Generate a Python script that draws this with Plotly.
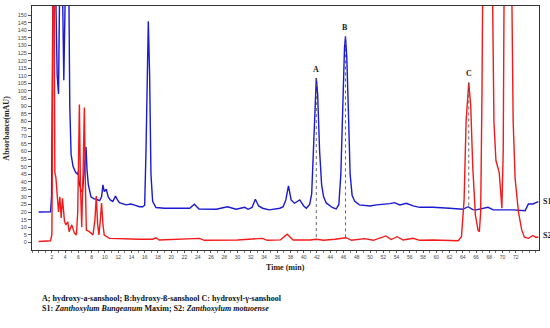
import plotly.graph_objects as go

# S1 (blue) chromatogram: time (min), absorbance (mAU)
s1_time = [0, 1.8, 1.95, 2.1, 2.3, 2.6, 2.8, 3.0, 3.1, 3.3, 3.5, 3.8, 4.0, 4.3, 4.5, 4.7,
           4.9, 5.2, 5.6, 5.9, 6.0, 6.1, 6.4, 6.6, 6.85, 7.0, 7.15, 7.3, 7.5, 7.9, 8.3, 8.7,
           9.2, 9.5, 9.7, 9.9, 10.2, 10.5, 10.8, 11.2, 11.6, 11.9, 12.2, 13.2, 13.9, 14.5,
           15.2, 15.7, 16.0, 16.2, 16.4, 16.55, 16.75, 16.95, 17.2, 17.7, 19.0, 21.3, 22.8,
           23.5, 24.2, 26.8, 28.5, 29.8, 31.1, 31.6, 32.2, 32.7, 33.2, 33.8, 34.8, 36.4,
           36.9, 37.3, 37.7, 38.1, 38.6, 39.4, 40.0, 40.4, 40.9, 41.2, 41.5, 41.75, 41.9,
           42.1, 42.4, 42.7, 43.0, 43.4, 44.3, 44.9, 45.3, 45.6, 45.9, 46.15, 46.3, 46.5,
           46.75, 47.0, 47.3, 47.7, 48.4, 50.0, 51.0, 52.2, 53.0, 53.7, 54.5, 55.5, 56.5,
           57.5, 59.5, 62.0, 64.0, 64.8, 65.5, 66.0, 67.8, 68.6, 71.6, 73.4, 73.9, 74.6, 75.4]
s1_abs = [20, 20.2, 30, 120, 260, 160, 110, 98, 120, 220, 200, 107, 130, 240, 200, 90,
          58, 50, 46, 45, 47, 40, 34, 33.5, 45, 58, 63, 48, 38, 30, 28.8, 28.4,
          27.5, 30, 37.9, 33.5, 35, 30, 28, 27, 30.6, 28, 26.2, 24.7, 25.3, 24.5,
          23.5, 23.5, 24.5, 60, 130, 146, 110, 45, 27, 23, 22.5, 22.5, 22.5,
          25.1, 22, 21.8, 23.5, 21.8, 23.1, 21.8, 23, 28.4, 24, 22.5, 21.4, 22.5,
          23.5, 28, 37.2, 28, 25.8, 28, 24, 22.5, 25, 32, 65, 100, 108.5,
          98, 60, 38, 30, 26, 23, 22, 25, 45, 95, 128, 136, 122,
          85, 45, 31, 27, 24.7, 24, 24.7, 25.1, 25.5, 26.2, 24.7, 25.8, 24,
          23.1, 23.1, 22.5, 21.8, 23.5, 21.6, 21.4, 23.1, 21.4, 21.4, 20.9, 25.3, 25.3, 26.8]

# S2 (red) chromatogram
s2_time = [0, 1.8, 2.0, 2.1, 2.2, 2.3, 2.4, 2.45, 2.6, 2.9, 3.0, 3.2, 3.4, 3.6, 3.9, 4.1,
           4.4, 4.6, 5.0, 5.4, 5.7, 5.9, 6.0, 6.15, 6.3, 6.5, 6.7, 6.9, 7.05, 7.2, 7.65,
           8.2, 8.5, 8.7, 8.9, 9.1, 9.3, 9.5, 9.7, 9.9, 10.7, 13.7, 15.2, 17.2, 17.7, 18.2,
           21.0, 24.3, 25.0, 30.0, 33.8, 34.5, 36.5, 37.5, 38.4, 41.0, 41.9, 43.0, 44.7,
           46.4, 47.2, 49.2, 50.5, 52.4, 53.2, 54.1, 55.0, 56.5, 57.5, 59.5, 63.3, 63.8,
           64.2, 64.5, 64.9, 65.2, 65.5, 65.9, 66.3, 66.5, 66.7, 66.9, 67.2, 68.0, 68.4,
           68.7, 69.0, 69.5, 69.9, 70.1, 70.4, 70.8, 71.2, 71.6, 71.9, 72.4, 72.9, 73.3,
           73.9, 74.6, 75.0, 75.4]
s2_abs = [0.5, 1, 5, 80, 250, 260, 95, 46, 43, 26, 20, 30, 16, 29, 14, 11.5,
          13.5, 7, 11.5, 6, 4.8, 20, 60, 91, 40, 10, 45, 89, 40, 8, 7,
          4.8, 15, 30.5, 12, 4.8, 14, 26, 12, 4.8, 2.6, 2, 2, 2, 3, 1.5,
          1.8, 2.6, 1.3, 1.5, 2.6, 1.3, 1.6, 5.3, 1.5, 1.5, 2, 1.3, 2,
          3, 1.3, 2.4, 1.3, 4.2, 1.8, 3.7, 1.5, 2.6, 1.3, 1.5, 1, 3.7,
          28, 80, 105.6, 90, 50, 18, 8, 7, 20, 100, 300, 400, 200,
          80, 54, 46, 22.5, 60, 300, 400, 250, 80, 42, 20, 8, 3.3,
          2.6, 4.5, 3.3, 3.3]

# Marked peaks
peak_labels = ["A", "B", "C"]
peak_times = [41.9, 46.3, 64.9]
peak_tops = [108.5, 136.0, 105.6]
peak_feet = [1.5, 2.5, 23.5]

# Axis ticks
x_ticks = list(range(2, 73, 2))
y_ticks = list(range(0, 151, 5))

series_names = ["S1", "S2"]
series_label_y = [26.7, 4.2]

footnote_1 = "A; hydroxy-a-sanshool; B:hydroxy-ß-sanshool C: hydroxyl-γ-sanshool"
footnote_2 = ("S1: <i>Zanthoxylum Bungeanum</i> Maxim; S2: <i>Zanthoxylum motuoense</i>")

BLUE = "#1a1ad0"
RED = "#f21a1a"
SERIF = "Liberation Serif, Times New Roman, serif"

fig = go.Figure()
fig.add_trace(go.Scatter(x=s1_time, y=s1_abs, mode="lines", name="S1",
                         line=dict(color=BLUE, width=1.4), showlegend=False))
fig.add_trace(go.Scatter(x=s2_time, y=s2_abs, mode="lines", name="S2",
                         line=dict(color=RED, width=1.4), showlegend=False))

for lab, t, top, foot in zip(peak_labels, peak_times, peak_tops, peak_feet):
    fig.add_trace(go.Scatter(x=[t, t], y=[top, foot], mode="lines", showlegend=False,
                             line=dict(color="#555555", width=0.9, dash="dot")))
    fig.add_annotation(x=t, y=top, text="<b>" + lab + "</b>", showarrow=False,
                       yanchor="bottom", yshift=2,
                       font=dict(family=SERIF, size=8, color="#222222"))

for name, yv in zip(series_names, series_label_y):
    fig.add_annotation(x=1.004, xref="paper", y=yv, yref="y", text="<b>" + name + "</b>",
                       showarrow=False, xanchor="left",
                       font=dict(family=SERIF, size=8, color="#222222"))

fig.add_annotation(x=-0.052, xref="paper", y=0.5, yref="paper", text="<b>Absorbance(mAU)</b>",
                   textangle=-90, showarrow=False, xanchor="center", yanchor="middle",
                   font=dict(family=SERIF, size=8, color="#222222"))
fig.add_annotation(x=0.5, xref="paper", y=-0.072, yref="paper", text="<b>Time (min)</b>",
                   showarrow=False, xanchor="center", yanchor="middle",
                   font=dict(family=SERIF, size=8, color="#222222"))
fig.add_annotation(x=0.0158, xref="paper", y=-0.199, yref="paper", text="<b>" + footnote_1 + "</b>",
                   showarrow=False, xanchor="left", yanchor="middle",
                   font=dict(family=SERIF, size=8, color="#111111"))
fig.add_annotation(x=0.0158, xref="paper", y=-0.24, yref="paper", text="<b>" + footnote_2 + "</b>",
                   showarrow=False, xanchor="left", yanchor="middle",
                   font=dict(family=SERIF, size=8, color="#111111"))

fig.update_layout(
    width=550, height=328,
    margin=dict(l=32, r=11, t=6, b=78),
    paper_bgcolor="white", plot_bgcolor="white",
)
fig.update_xaxes(range=[-1.0, 75.5], tickvals=x_ticks, ticktext=[str(v) for v in x_ticks],
                 ticks="outside", ticklen=2, tickwidth=1, tickcolor="#555555",
                 minor=dict(dtick=1, tick0=0, ticks="outside", ticklen=2, tickcolor="#777777"),
                 showline=True, linecolor="#333333", linewidth=1, mirror=True,
                 showgrid=False, zeroline=False,
                 tickfont=dict(family="Liberation Sans, Arial, sans-serif", size=5, color="#444444"))
fig.update_yaxes(range=[-5.1, 156.1], tickvals=y_ticks, ticktext=[str(v) for v in y_ticks],
                 ticks="outside", ticklen=3, tickwidth=1, tickcolor="#555555",
                 showline=True, linecolor="#333333", linewidth=1, mirror=True,
                 showgrid=False, zeroline=False,
                 tickfont=dict(family="Liberation Sans, Arial, sans-serif", size=5.5, color="#444444"))

fig.write_html("out.html", config={"displayModeBar": False},
               post_script="document.body.style.margin='0';")
